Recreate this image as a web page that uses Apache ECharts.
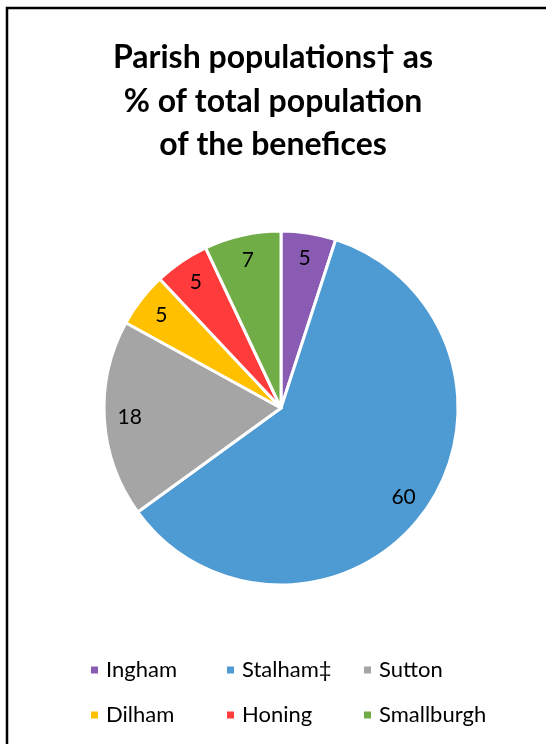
<!DOCTYPE html>
<html>
<head>
<meta charset="utf-8">
<script src="https://cdn.jsdelivr.net/npm/echarts@6/dist/echarts.min.js"></script>
<style>
  html, body { margin: 0; padding: 0; background: #fff; }
  #chart { width: 546px; height: 744px; }
</style>
</head>
<body>
<div id="chart"></div>
<script>
// parish shares, clockwise from 12 o'clock
const parishes = ['Ingham', 'Stalham‡', 'Sutton', 'Dilham', 'Honing', 'Smallburgh'];
const shares = [5, 60, 18, 5, 5, 7];
const colours = ['#8A5BB3', '#4E9BD4', '#A5A5A5', '#FFC000', '#FF3B3B', '#70AD47'];

const FONT = 'Lato, "Open Sans", sans-serif';
const data = parishes.map((name, i) => ({ name, value: shares[i], itemStyle: { color: colours[i] } }));

// one legend per entry so the columns line up like a 3x2 grid
const COLS = [84, 220, 357];
const ROWS = [654, 699];
const legends = parishes.map((name, i) => ({
  data: [name], left: COLS[i % 3], top: ROWS[Math.floor(i / 3)],
  icon: 'rect', itemWidth: 9, itemHeight: 9, selectedMode: false,
  textStyle: { fontFamily: FONT, fontSize: 22, color: '#000', padding: [0, 0, 0, 2] },
}));

const chart = echarts.init(document.getElementById('chart'), null, { renderer: 'canvas' });
chart.setOption({
  animation: false,
  title: {
    text: 'Parish populations† as\n% of total population\nof the benefices',
    left: 'center', top: 31,
    textStyle: { fontFamily: FONT, fontSize: 32, fontWeight: 'bold', color: '#000', lineHeight: 43.5 },
  },
  legend: legends,
  graphic: [{
    type: 'rect', shape: { x: 7, y: 8, width: 600, height: 800 },
    style: { fill: 'none', stroke: '#000', lineWidth: 2.5 }, silent: true,
  }],
  series: [
    {
      type: 'pie', radius: 177, center: [281, 408], startAngle: 90, clockwise: true,
      data, label: { show: false }, labelLine: { show: false },
      itemStyle: { borderColor: '#fff', borderWidth: 3 },
    },
    {
      // transparent ring just to place the value labels near the rim
      type: 'pie', radius: [120, 177], center: [281, 408], startAngle: 90, clockwise: true,
      silent: true, data: data.map(d => ({ name: d.name, value: d.value })),
      itemStyle: { color: 'transparent' },
      label: { show: true, position: 'inside', formatter: '{c}', fontFamily: FONT, fontSize: 21, color: '#000' },
      labelLine: { show: false },
    },
  ],
});
</script>
</body>
</html>
